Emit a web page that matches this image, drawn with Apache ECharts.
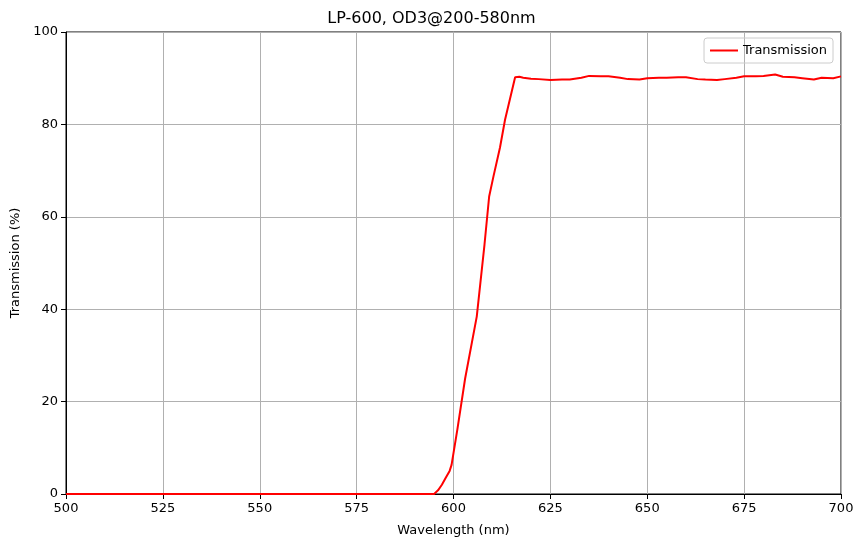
<!DOCTYPE html><html><head><meta charset="utf-8"><script src="https://cdn.jsdelivr.net/npm/echarts@6/dist/echarts.min.js"></script></head><body style="margin:0"><div id="c" style="width:863px;height:547px"></div><script>
const wavelengths=[500,595,596,597,598,599,599.5,601,603,606,608,609.2,610.3,612,613.3,615,615.9,617,618,620,622,625,628,630,633,635,638,640,643,645,648,650,653,655,658,660,663,665,668,670,673,675,678,680,683,685,688,690,693,695,698,700];
const transmission=[0,0,0.8,2,3.5,5,6.3,14,25,38.4,54,64.4,68.7,75,81,87,90.2,90.3,90.1,89.9,89.8,89.6,89.7,89.7,90.1,90.5,90.4,90.4,90.1,89.8,89.7,90,90.1,90.1,90.2,90.2,89.8,89.7,89.6,89.8,90.1,90.4,90.4,90.5,90.8,90.3,90.2,90.0,89.7,90.1,90.0,90.4];
const xTicks=[500,525,550,575,600,625,650,675,700];
const ch=echarts.init(document.getElementById('c'));
const ax={color:'#000',fontSize:13,fontFamily:'DejaVu Sans'};
ch.setOption({animation:false,
title:{text:'LP-600, OD3@200-580nm',left:'center',top:6,textStyle:{fontFamily:'DejaVu Sans',fontSize:16,fontWeight:'normal',color:'#000'}},
grid:{left:66,right:22,top:32,bottom:53,show:true,borderColor:'#000',borderWidth:1,backgroundColor:'transparent'},
legend:{right:30,top:38,data:['Transmission'],itemWidth:28,itemHeight:2,icon:'rect',borderColor:'#ccc',borderWidth:1,borderRadius:3,padding:[6,6],textStyle:{fontFamily:'DejaVu Sans',fontSize:13,color:'#000'}},
xAxis:{type:'value',min:500,max:700,interval:25,name:'Wavelength (nm)',nameLocation:'middle',nameGap:30,nameTextStyle:ax,axisLabel:ax,axisLine:{lineStyle:{color:'#000'}},axisTick:{lineStyle:{color:'#000'}},splitLine:{lineStyle:{color:'#b0b0b0'}}},
yAxis:{type:'value',min:0,max:100,interval:20,name:'Transmission (%)',nameLocation:'middle',nameGap:40,nameTextStyle:ax,axisLabel:ax,axisLine:{show:true,lineStyle:{color:'#000'}},axisTick:{show:true,lineStyle:{color:'#000'}},splitLine:{lineStyle:{color:'#b0b0b0'}}},
series:[{name:'Transmission',type:'line',showSymbol:false,data:wavelengths.map((w,i)=>[w,transmission[i]]),lineStyle:{color:'#ff0000',width:2},itemStyle:{color:'#ff0000'}}]});
</script></body></html>
